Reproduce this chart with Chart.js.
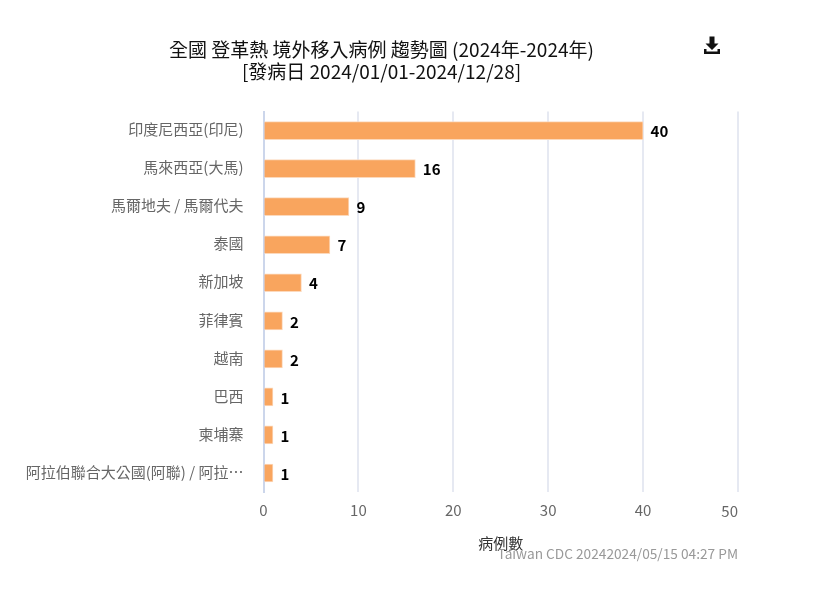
<!DOCTYPE html>
<html>
<head>
<meta charset="utf-8">
<script src="https://cdn.jsdelivr.net/npm/chart.js@4"></script>
<style>
    html, body { margin: 0; padding: 0; background: #fff; }
    #wrap { position: relative; width: 815px; height: 589px; overflow: hidden; }
    #credit { position: absolute; right: 77px; top: 543px; font: 13.7px "Noto Sans CJK TC"; color: #999; white-space: nowrap; }
    #download { position: absolute; left: 702px; top: 35px; }
</style>
</head>
<body>
<div id="wrap">
    <canvas id="caseChart" width="815" height="589"></canvas>
    <svg id="download" width="20" height="22" viewBox="0 0 20 22">
        <path d="M7.500 1.500h5v7h4l-6.500 6.500-6.500-6.500h4z M2 14v5h16v-5h-2.500v2.500h-11v-2.500z" fill="#111"/>
    </svg>
    <div id="credit">Taiwan CDC 20242024/05/15 04:27 PM</div>
</div>
<script>
const FONT = '"Noto Sans CJK TC"';
const countries = ['印度尼西亞(印尼)', '馬來西亞(大馬)', '馬爾地夫 / 馬爾代夫', '泰國', '新加坡', '菲律賓', '越南', '巴西', '柬埔寨', '阿拉伯聯合大公國(阿聯) / 阿拉…'];
const cases = [40, 16, 9, 7, 4, 2, 2, 1, 1, 1];
const titleLines = ['全國 登革熱 境外移入病例 趨勢圖 (2024年-2024年)', '[發病日 2024/01/01-2024/12/28]'];
const axisTitle = '病例數';

// Numbers at the end of each bar
const barValues = {
    id: 'barValues',
    afterDatasetsDraw(chart) {
        const ctx = chart.ctx;
        ctx.save();
        ctx.font = 'bold 15px ' + FONT;
        ctx.fillStyle = '#000';
        ctx.textBaseline = 'middle';
        chart.getDatasetMeta(0).data.forEach(function (bar, i) {
            ctx.fillText(cases[i], bar.x + 7.5, bar.y + 1);
        });
        ctx.restore();
    }
};

// The last tick label sits inside the plot edge, not centered on its grid line
const lastTick = {
    id: 'lastTick',
    afterDraw(chart) {
        const ctx = chart.ctx;
        const scale = chart.scales.x;
        ctx.save();
        ctx.font = '15px ' + FONT;
        ctx.fillStyle = '#666';
        ctx.textAlign = 'right';
        ctx.textBaseline = 'top';
        ctx.fillText(scale.max, scale.getPixelForValue(scale.max), 504);
        ctx.restore();
    }
};

new Chart(document.getElementById('caseChart'), {
    type: 'bar',
    data: {
        labels: countries,
        datasets: [{
            data: cases,
            backgroundColor: '#F9A55E',
            borderColor: '#FCD9BC',
            borderWidth: 1,
            barThickness: 18
        }]
    },
    options: {
        indexAxis: 'y',
        responsive: false,
        animation: false,
        layout: { padding: { top: 0, right: 77, bottom: 37, left: 25 } },
        plugins: {
            legend: { display: false },
            tooltip: { enabled: false },
            title: {
                display: true,
                text: titleLines,
                color: '#111',
                font: { family: FONT, size: 19, weight: 'normal', lineHeight: 1.2 },
                padding: { top: 38, bottom: 28 },
                position: 'top'
            }
        },
        scales: {
            x: {
                min: 0,
                max: 50,
                ticks: {
                    stepSize: 10,
                    color: '#666',
                    padding: 9,
                    font: { family: FONT, size: 15 },
                    callback: function (v) { return v === 50 ? '' : v; }
                },
                grid: { color: '#E6E9F2', lineWidth: 2, drawTicks: false },
                border: { display: false },
                title: {
                    display: true,
                    text: axisTitle,
                    color: '#333',
                    font: { family: FONT, size: 15 },
                    padding: 0
                },
                afterFit: function (s) { s.height = 60; }
            },
            y: {
                ticks: {
                    autoSkip: false,
                    color: '#666',
                    padding: 20,
                    labelOffset: -1,
                    font: { family: FONT, size: 15 }
                },
                grid: { display: false, drawTicks: false },
                border: { color: '#CCD6EB', width: 2 },
                afterFit: function (s) { s.width = 238.5; }
            }
        }
    },
    plugins: [barValues, lastTick]
});
</script>
</body>
</html>
